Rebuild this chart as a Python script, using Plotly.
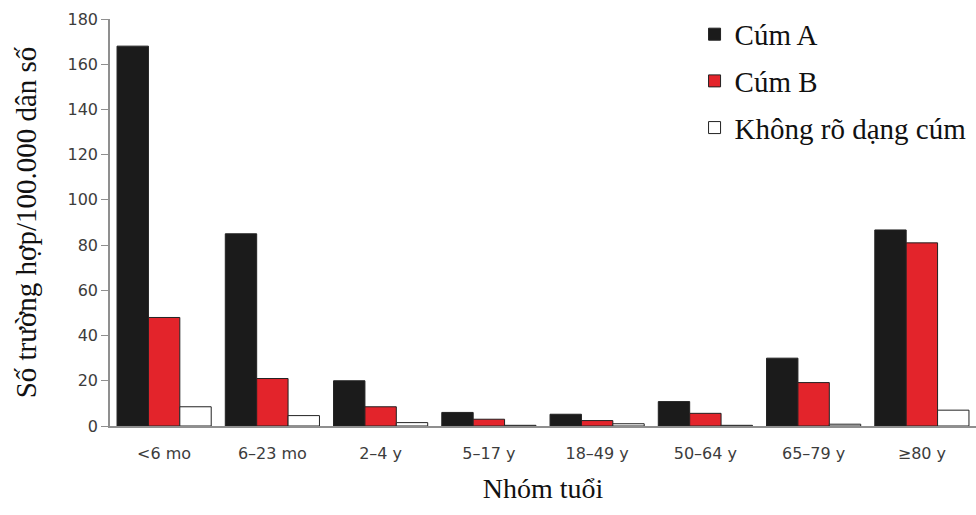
import plotly.graph_objects as go

# Age groups and rates per 100,000 population
age_groups = ["<6 mo", "6–23 mo", "2–4 y", "5–17 y", "18–49 y", "50–64 y", "65–79 y", "≥80 y"]
flu_a = [168, 85, 20, 6, 5.2, 10.8, 30, 86.7]
flu_b = [48, 21, 8.5, 3, 2.4, 5.6, 19.2, 81]
flu_unknown = [8.5, 4.6, 1.5, 0.3, 1, 0.3, 0.8, 7]

series_names = ["Cúm A", "Cúm B", "Không rõ dạng cúm"]
series_colors = ["#1b1b1b", "#e3242b", "#ffffff"]
y_ticks = [0, 20, 40, 60, 80, 100, 120, 140, 160, 180]

serif = "Liberation Serif, Times New Roman, serif"
sans = "DejaVu Sans, Arial, sans-serif"

fig = go.Figure()
for i, (name, vals, color) in enumerate(zip(series_names, [flu_a, flu_b, flu_unknown], series_colors)):
    fig.add_trace(go.Bar(
        x=age_groups, y=vals, name=name, legendgroup=f"g{i}",
        marker=dict(color=color, line=dict(color="#222222", width=1)),
    ))

fig.update_layout(
    width=976, height=515,
    margin=dict(l=110, r=0, t=19, b=89),
    paper_bgcolor="white", plot_bgcolor="white",
    barmode="group", bargap=0.13, bargroupgap=0,
    legend=dict(
        x=0.675, y=1.025, xanchor="left", yanchor="top",
        font=dict(family=serif, size=29, color="#111111"),
        traceorder="grouped", tracegroupgap=6,
        bgcolor="rgba(0,0,0,0)", itemwidth=30,
    ),
    xaxis=dict(
        range=[-0.5, 7.5], showline=True, linecolor="#8f8f8f", linewidth=1.5,
        ticks="", tickfont=dict(family=sans, size=16, color="#3c3c3c"),
        ticklabelstandoff=12,
        title=dict(text="Nhóm tuổi", font=dict(family=serif, size=28, color="#111111"), standoff=16),
    ),
    yaxis=dict(
        range=[0, 180], tickvals=y_ticks, showgrid=False, zeroline=False,
        showline=True, linecolor="#8f8f8f", linewidth=1.5,
        ticks="outside", ticklen=7, tickcolor="#8f8f8f",
        tickfont=dict(family=sans, size=16, color="#3c3c3c"),
        title=dict(text="Số trường hợp/100.000 dân số", font=dict(family=serif, size=29, color="#111111"), standoff=22),
    ),
)

fig.write_html("out.html")
